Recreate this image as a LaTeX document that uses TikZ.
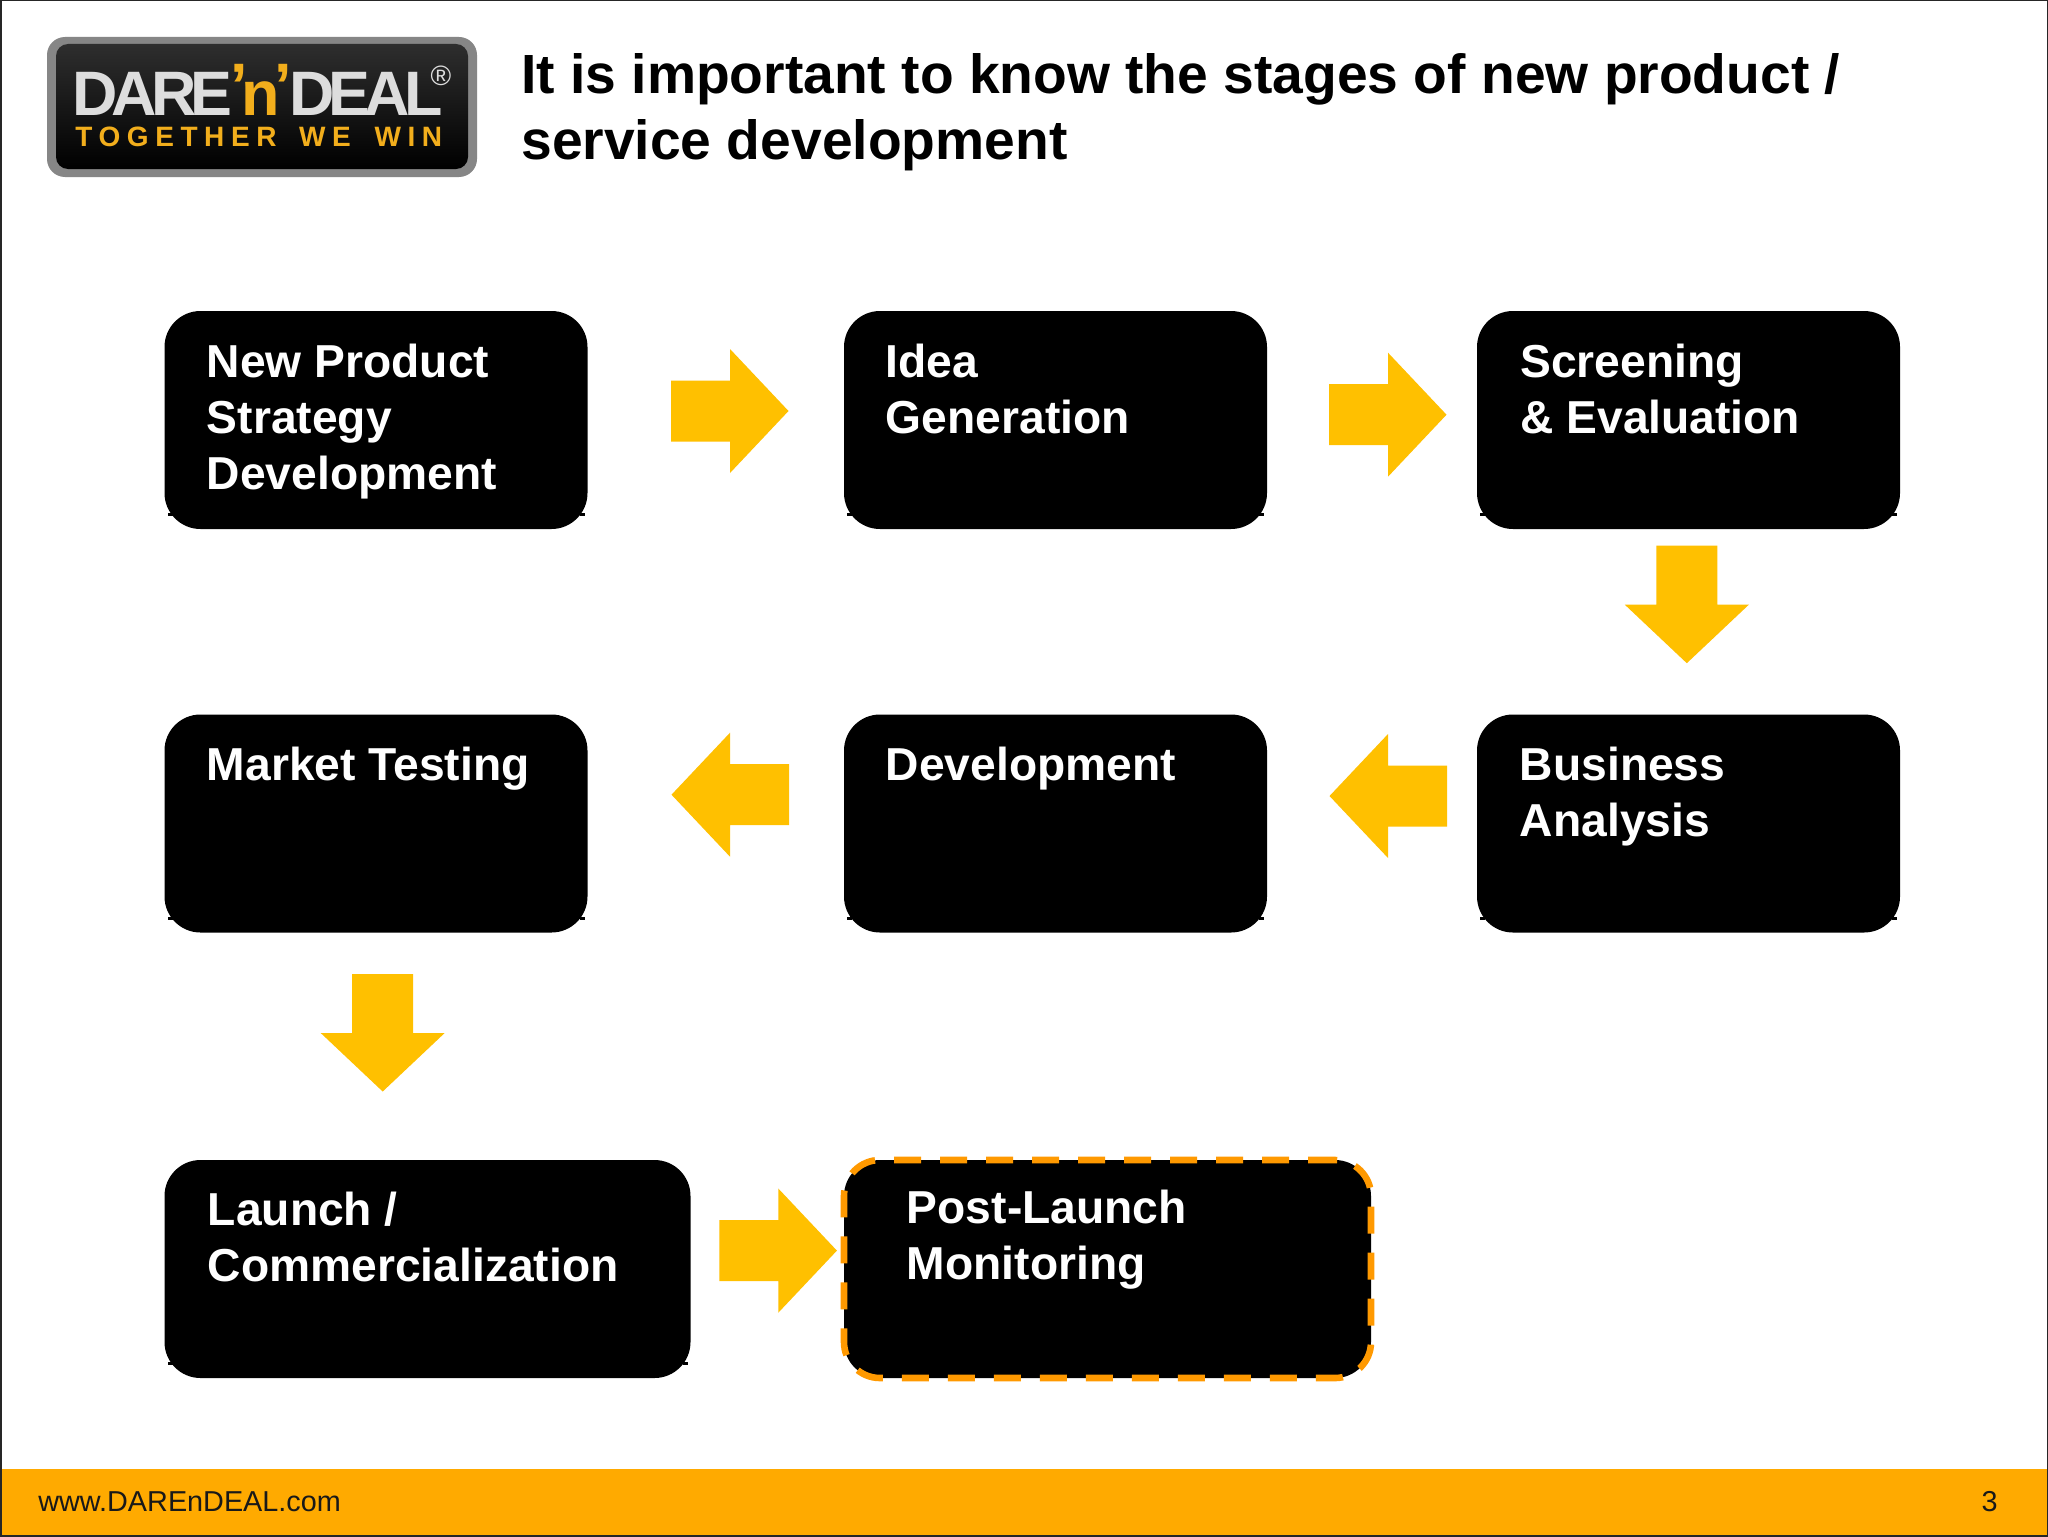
\documentclass[tikz,border=0pt]{standalone}
\usepackage{fontspec}
\setmainfont{Liberation Sans}
\usetikzlibrary{shadings,fadings}
\definecolor{arrowyel}{HTML}{FFC000}
\definecolor{barorg}{HTML}{FFAA00}
\definecolor{dashorg}{HTML}{FF9900}
\definecolor{logogold}{HTML}{F2AE1C}
\definecolor{logosilver}{HTML}{DDDDDD}
\tikzset{
  x=0.5pt,y=-0.5pt,
  stagebox/.style={fill=black,draw=none,rounded corners=18pt,anchor=north west,inner sep=0pt,outer sep=0pt,minimum height=109pt},
  stagetext/.style={anchor=base west,align=left,inner sep=0pt,text=white,font=\fontsize{23.1pt}{28pt}\selectfont\bfseries},
  blockarrow/.pic={\fill[arrowyel] (-59,-30.5) -- (0,-30.5) -- (0,-62) -- (58.5,0) -- (0,62) -- (0,30.5) -- (-59,30.5) -- cycle;},
  cornertick/.pic={\fill[black] (3,-16) rectangle (8,-13);},
  titletext/.style={anchor=base west,align=left,inner sep=0pt,text=black,font=\fontsize{27.6pt}{33pt}\selectfont\bfseries},
  foot/.style={anchor=base west,inner sep=0pt,text=black!90,font=\fontsize{14.4pt}{16pt}\selectfont},
  logobig/.style={anchor=base west,inner sep=0pt,font=\fontsize{31.4pt}{34pt}\selectfont\bfseries\addfontfeatures{LetterSpace=-9.4}},
}
\begin{document}
\begin{tikzpicture}
\useasboundingbox (0,0) rectangle (2048,1536);
\fill[white] (0,0) rectangle (2048,1536);
% footer bar
\fill[barorg] (0,1469) rectangle (2048,1536);
\draw[black!85,line width=1pt] (0.5,0.5) rectangle (2047.5,1535.5);
\node[foot] (url) at (38,1511) {www.DAREnDEAL.com};
\node[foot,anchor=base east] (pg) at (1998,1511) {3};
% logo
\fill[gray!95,rounded corners=9pt] (47,37) rectangle (477,177);
\shade[top color=black!82,bottom color=black,rounded corners=6pt] (56,44) rectangle (468,169);
\node[logobig,text=logosilver] (logoa) at (72,115) {DARE};
\node[logobig,text=logogold] (logob) at (230,115) {\raisebox{3.5pt}{’}\kern-3pt n\kern-3pt\raisebox{3.5pt}{’}};
\node[logobig,text=logosilver] (logoc) at (289,115) {DEAL};
\node[anchor=center,inner sep=0pt,text=logosilver,font=\fontsize{14pt}{15pt}\selectfont] (logor) at (441,76) {®};
\node[anchor=base west,inner sep=0pt,text=logogold,font=\fontsize{14pt}{16pt}\selectfont\bfseries\addfontfeatures{LetterSpace=23.5}] (logot) at (75,146) {TOGETHER\hspace{4.15pt} WE\hspace{4.65pt} WIN};
% title
\node[titletext] (title) at (521,159.8) {It is important to know the stages of new product /\\service development};
% boxes
\node[stagebox,minimum width=211.5pt] (b1) at (164.5,311) {};
\node[stagebox,minimum width=211.5pt] (b2) at (844,311) {};
\node[stagebox,minimum width=211.5pt] (b3) at (1477,311) {};
\node[stagebox,minimum width=211.5pt] (b4) at (164.5,714.5) {};
\node[stagebox,minimum width=211.5pt] (b5) at (844,714.5) {};
\node[stagebox,minimum width=211.5pt] (b6) at (1477,714.5) {};
\node[stagebox,minimum width=263pt] (b7) at (164.5,1160) {};
\node[stagebox,minimum width=263.5pt,draw=dashorg,line width=3.3pt,dash pattern=on 13.5pt off 9.5pt] (b8) at (844,1160) {};
% small jogs on the lower corners of the boxes
\foreach \b in {b1,b2,b3,b4,b5,b6,b7}{
  \pic at (\b.south west) {cornertick};
  \pic[xscale=-1] at (\b.south east) {cornertick};
}
% labels
\node[stagetext] (t1) at (206.5,489.3) {New Product\\Strategy\\Development};
\node[stagetext] (t2) at (885.5,433.3) {Idea\\Generation};
\node[stagetext] (t3) at (1520,433.3) {Screening\\\& Evaluation};
\node[stagetext] (t4) at (206.5,780) {Market Testing};
\node[stagetext] (t5) at (885.5,780) {Development};
\node[stagetext] (t6) at (1519.5,836) {Business\\Analysis};
\node[stagetext] (t7) at (207.5,1281.5) {Launch /\\Commercialization};
\node[stagetext] (t8) at (906.5,1279) {Post-Launch\\Monitoring};
% arrows
\pic at (730,411) {blockarrow};
\pic at (1388,414.7) {blockarrow};
\pic[rotate=-90] at (1686.8,604.7) {blockarrow};
\pic[rotate=180] at (1388,796) {blockarrow};
\pic[rotate=180] at (730,794.7) {blockarrow};
\pic[rotate=-90] at (382.7,1033) {blockarrow};
\pic at (778.4,1250.6) {blockarrow};
\end{tikzpicture}
\end{document}
